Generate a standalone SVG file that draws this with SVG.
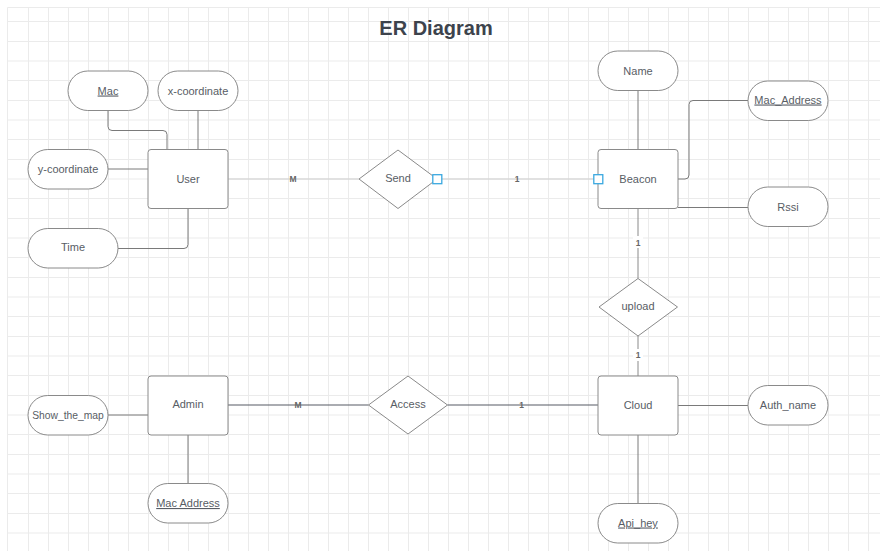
<svg xmlns="http://www.w3.org/2000/svg" width="880" height="551" viewBox="0 0 880 551">
<style>
.grid{stroke:#ebebeb;stroke-width:1;fill:none}
.ent{fill:#fff;stroke:#8a8a8a;stroke-width:1}
.attr{fill:#fff;stroke:#8a8a8a;stroke-width:1}
.rel{fill:#fff;stroke:#8a8a8a;stroke-width:1}
.t{font-family:"Liberation Sans",Arial,sans-serif;font-size:11px;fill:#585d65;text-anchor:middle}
.u{text-decoration:underline}
.title{font-family:"Liberation Sans",Arial,sans-serif;font-size:20px;font-weight:bold;fill:#3d434c;text-anchor:middle}
.lbl{font-family:"Liberation Sans",Arial,sans-serif;font-size:8.5px;font-weight:bold;fill:#666;text-anchor:middle}
.ca{fill:none;stroke:#7a7a7a;stroke-width:1}
.cl{fill:none;stroke:#cdcdcd;stroke-width:1}
.cm{fill:none;stroke:#8a8a8a;stroke-width:1}
.cd{fill:none;stroke:#565b64;stroke-width:1.2}
.port{fill:#fff;stroke:#3aa8e0;stroke-width:1.3}
</style>
<rect x="0" y="0" width="880" height="551" fill="#fff"/>
<g id="grid">
<path class="grid" d="M7.5 7.5V551M28.5 7.5V551M48.5 7.5V551M68.5 7.5V551M88.5 7.5V551M108.5 7.5V551M128.5 7.5V551M148.5 7.5V551M168.5 7.5V551M188.5 7.5V551M208.5 7.5V551M228.5 7.5V551M248.5 7.5V551M268.5 7.5V551M288.5 7.5V551M308.5 7.5V551M328.5 7.5V551M348.5 7.5V551M368.5 7.5V551M388.5 7.5V551M408.5 7.5V551M428.5 7.5V551M448.5 7.5V551M468.5 7.5V551M488.5 7.5V551M508.5 7.5V551M528.5 7.5V551M548.5 7.5V551M568.5 7.5V551M588.5 7.5V551M608.5 7.5V551M628.5 7.5V551M648.5 7.5V551M668.5 7.5V551M688.5 7.5V551M708.5 7.5V551M728.5 7.5V551M748.5 7.5V551M768.5 7.5V551M788.5 7.5V551M808.5 7.5V551M828.5 7.5V551M848.5 7.5V551M868.5 7.5V551"/>
<path class="grid" d="M7.5 7.5H880M7.5 21.5H880M7.5 41.5H880M7.5 61H880M7.5 80.5H880M7.5 100.5H880M7.5 120H880M7.5 139.5H880M7.5 159.5H880M7.5 179H880M7.5 198.5H880M7.5 218.5H880M7.5 238H880M7.5 257.5H880M7.5 277.5H880M7.5 297H880M7.5 316.5H880M7.5 336.5H880M7.5 356H880M7.5 375.5H880M7.5 395.5H880M7.5 415H880M7.5 434.5H880M7.5 454.5H880M7.5 474H880M7.5 493.5H880M7.5 513.5H880M7.5 533H880"/>
</g>
<text class="title" x="436" y="35">ER Diagram</text>
<g id="connectors">
<path class="ca" d="M108 110.5V126.5Q108 130.5 112 130.5H163Q167 130.5 167 134.5V149.5"/>
<path class="ca" d="M198 110.5V149.5"/>
<path class="ca" d="M108 169H148"/>
<path class="ca" d="M118 248.5H184Q188 248.5 188 244.5V208.5"/>
<path class="ca" d="M638 90.5V149.5"/>
<path class="ca" d="M678 179H685Q689 179 689 175V104.5Q689 100.5 693 100.5H748"/>
<path class="ca" d="M678 207.5H748"/>
<path class="ca" d="M678 405.5H748"/>
<path class="ca" d="M638 435V503.5"/>
<path class="ca" d="M108 415H148"/>
<path class="ca" d="M188 435V483.5"/>
<path class="cl" d="M228 179H359"/>
<path class="cl" d="M437 179H598"/>
<path class="cm" d="M638 208.5V278.5"/>
<path class="cm" d="M638 336V376"/>
<path class="cd" d="M228 405H368.5"/>
<path class="cd" d="M447.5 405H598"/>
<text class="lbl" x="293" y="182">M</text>
<text class="lbl" x="517" y="182">1</text>
<rect x="633" y="236" width="10" height="12" fill="#fff"/>
<text class="lbl" x="638" y="245.5">1</text>
<rect x="633" y="349" width="10" height="12" fill="#fff"/>
<text class="lbl" x="638" y="358">1</text>
<text class="lbl" x="298" y="408">M</text>
<text class="lbl" x="521.5" y="408">1</text>
</g>
<g id="user"><rect class="ent" x="148" y="149.5" width="80" height="59" rx="3"/><text class="t" x="188" y="182.5">User</text></g>
<g id="beacon"><rect class="ent" x="598" y="149.5" width="80" height="59" rx="3"/><text class="t" x="638" y="182.5">Beacon</text></g>
<g id="cloud"><rect class="ent" x="598" y="376" width="80" height="59" rx="3"/><text class="t" x="638" y="409">Cloud</text></g>
<g id="admin"><rect class="ent" x="148" y="376" width="80" height="59" rx="3"/><text class="t" x="188" y="408">Admin</text></g>
<g id="send"><polygon class="rel" points="398,150 437,179 398,208.5 359,179"/><text class="t" x="398" y="181.5">Send</text></g>
<g id="access"><polygon class="rel" points="408,376 447.5,405 408,434 368.5,405"/><text class="t" x="408" y="407.5">Access</text></g>
<g id="upload"><polygon class="rel" points="638,278.5 677.5,307 638,336 599,307"/><text class="t" x="638" y="310">upload</text></g>
<g id="mac"><rect class="attr" x="68" y="71" width="80" height="39.5" rx="19.75"/><text class="t u" x="108" y="94.5">Mac</text></g>
<g id="xcoord"><rect class="attr" x="158" y="71" width="80" height="39.5" rx="19.75"/><text class="t" x="198" y="94.5">x-coordinate</text></g>
<g id="ycoord"><rect class="attr" x="28" y="149.5" width="80" height="39.5" rx="19.75"/><text class="t" x="68" y="173">y-coordinate</text></g>
<g id="time"><rect class="attr" x="28" y="228.5" width="90" height="39.5" rx="19.75"/><text class="t" x="73" y="251">Time</text></g>
<g id="name"><rect class="attr" x="598" y="51" width="80" height="39.5" rx="19.75"/><text class="t" x="638" y="74.5">Name</text></g>
<g id="mac_address"><rect class="attr" x="748" y="81" width="80" height="39.5" rx="19.75"/><text class="t u" x="788" y="103.5">Mac_Address</text></g>
<g id="rssi"><rect class="attr" x="748" y="187" width="80" height="39.5" rx="19.75"/><text class="t" x="788" y="210.5">Rssi</text></g>
<g id="auth_name"><rect class="attr" x="748" y="385.5" width="80" height="39.5" rx="19.75"/><text class="t" x="788" y="409">Auth_name</text></g>
<g id="api_hey"><rect class="attr" x="598" y="503.5" width="80" height="39.5" rx="19.75"/><text class="t u" x="638" y="526.5">Api_hey</text></g>
<g id="show_the_map"><rect class="attr" x="28" y="395.5" width="80" height="39.5" rx="19.75"/><text class="t" x="68" y="418.5" style="font-size:10.3px">Show_the_map</text></g>
<g id="mac_address_admin"><rect class="attr" x="148" y="483.5" width="80" height="39.5" rx="19.75"/><text class="t u" x="188" y="507">Mac Address</text></g>
<g id="ports"><rect class="port" x="432.8" y="174.7" width="9" height="9"/><rect class="port" x="593.8" y="174.7" width="9" height="9"/></g>
</svg>
